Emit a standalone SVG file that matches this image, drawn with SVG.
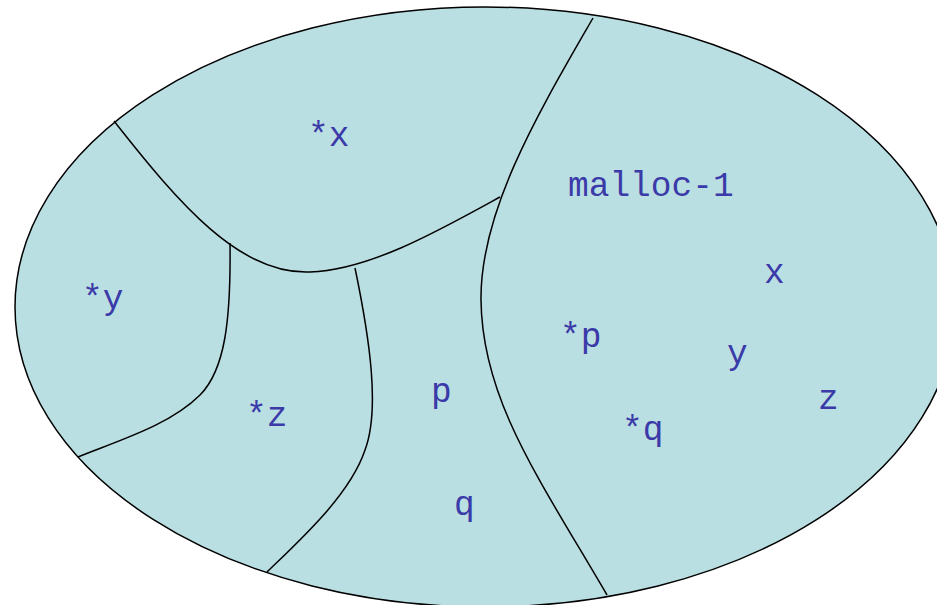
<svg xmlns="http://www.w3.org/2000/svg" width="937" height="605" viewBox="0 0 937 605">
<style>
.b{fill:none;stroke:#000;stroke-width:1.5}
.t{font-family:"Liberation Mono","Courier New",monospace;font-size:34.5px;fill:#3a3aa8}
</style>
<rect width="937" height="605" fill="#fff"/>
<g id="set">
<ellipse cx="485" cy="307" rx="470" ry="300" fill="#badfe3" stroke="#000" stroke-width="1.5"/>
</g>
<g id="boundaries">
<path class="b" d="M593,18 C540,110 480,210 481,300 C482,400 540,480 607,595"/>
<path class="b" d="M114,121 C180,205 240,275 310,272 C370,270 440,230 500,197"/>
<path class="b" d="M230,243 C231,320 225,370 200,395 C170,425 120,440 78,457"/>
<path class="b" d="M355,268 C370,340 380,410 365,450 C350,495 300,540 267,572"/>
</g>
<g id="labels">
<text class="t" x="308" y="146">*x</text>
<text class="t" x="568" y="196">malloc-1</text>
<text class="t" x="82" y="309">*y</text>
<text class="t" x="764" y="283">x</text>
<text class="t" x="560" y="347">*p</text>
<text class="t" x="727" y="364">y</text>
<text class="t" x="818" y="409">z</text>
<text class="t" x="431" y="402">p</text>
<text class="t" x="246" y="426">*z</text>
<text class="t" x="622" y="440">*q</text>
<text class="t" x="454" y="515">q</text>
</g>
</svg>
